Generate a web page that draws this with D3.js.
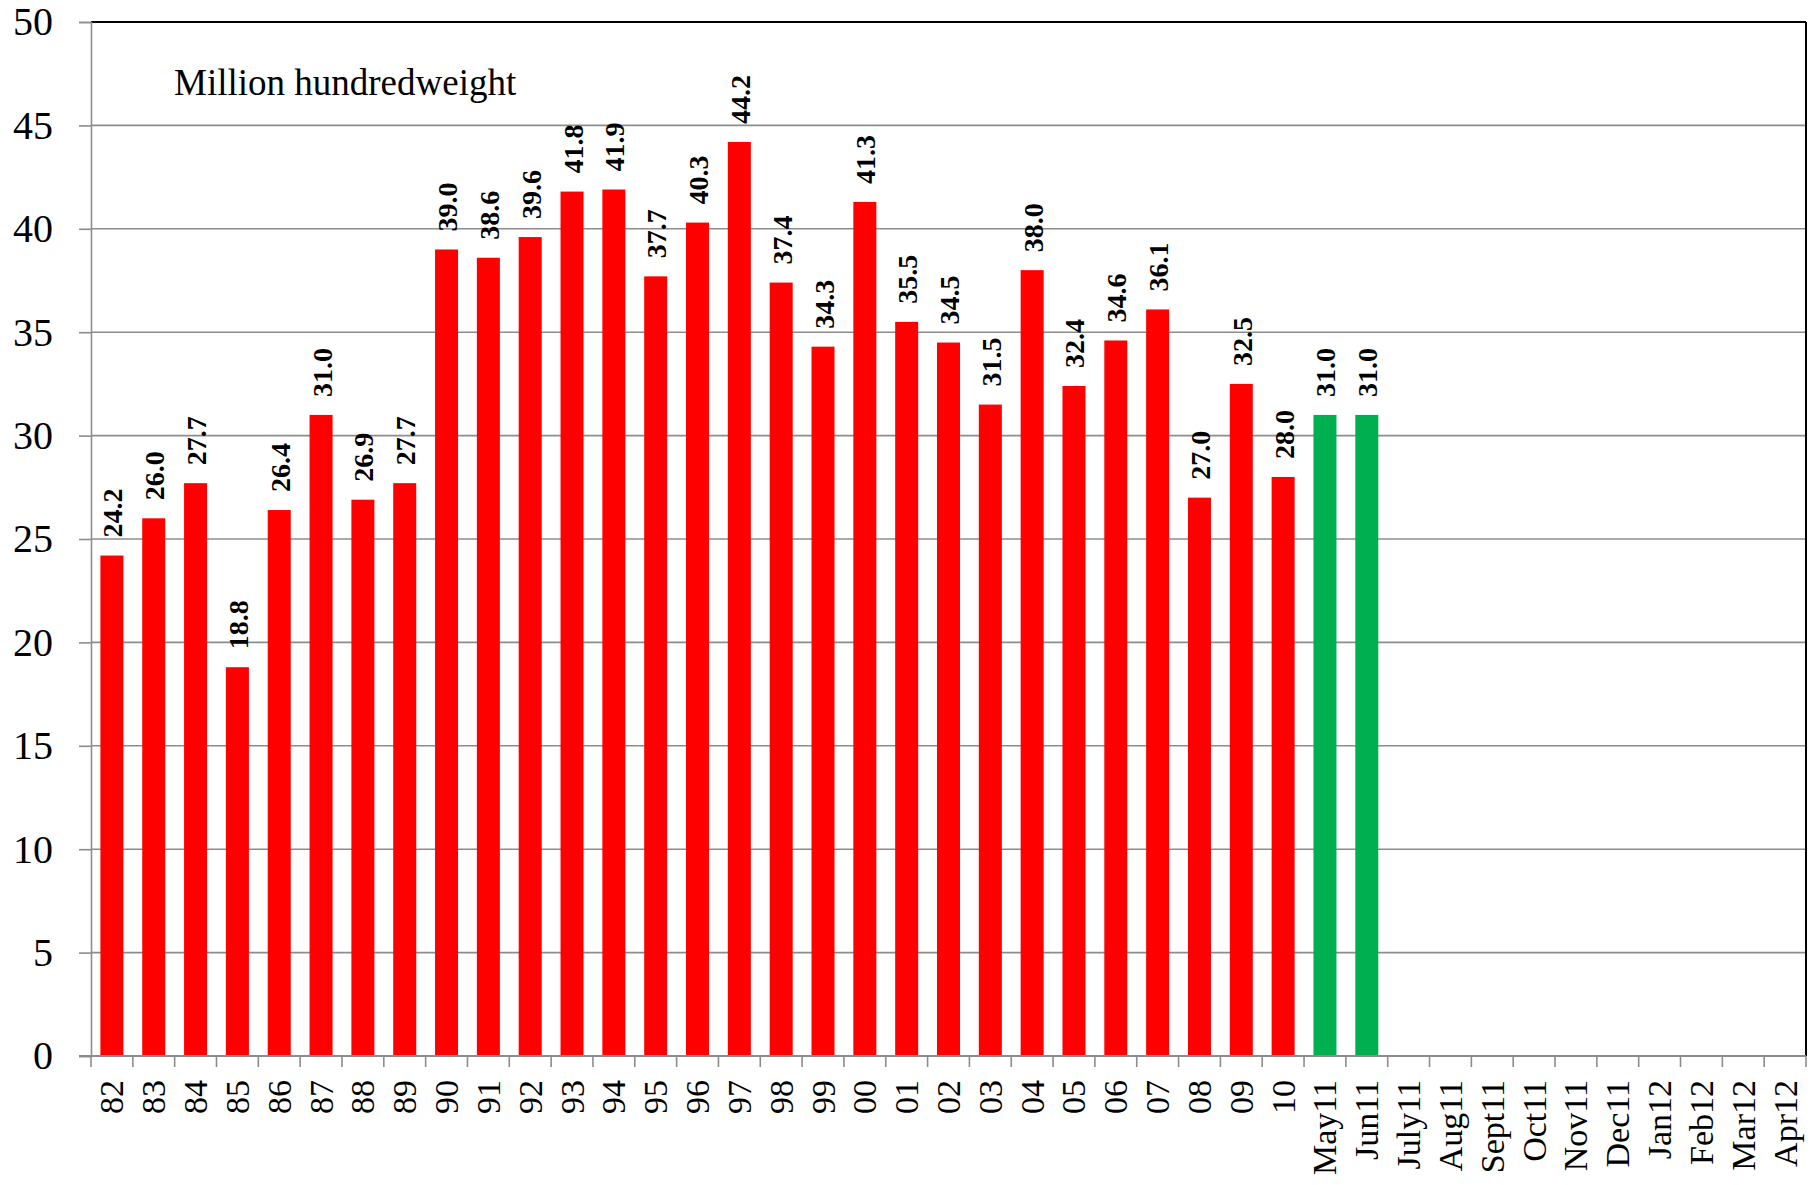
<!DOCTYPE html>
<html><head><meta charset="utf-8">
<script src="https://cdn.jsdelivr.net/npm/d3@7"></script>
<style>body{margin:0;background:#fff}svg{display:block}</style>
</head><body>
<script>
const categories = ["82","83","84","85","86","87","88","89","90","91","92","93","94","95","96","97","98","99","00","01","02","03","04","05","06","07","08","09","10","May11","Jun11","July11","Aug11","Sept11","Oct11","Nov11","Dec11","Jan12","Feb12","Mar12","Apr12"];
const annualValues = [24.2,26.0,27.7,18.8,26.4,31.0,26.9,27.7,39.0,38.6,39.6,41.8,41.9,37.7,40.3,44.2,37.4,34.3,41.3,35.5,34.5,31.5,38.0,32.4,34.6,36.1,27.0,32.5,28.0,null,null,null,null,null,null,null,null,null,null,null,null];
const monthlyValues = [null,null,null,null,null,null,null,null,null,null,null,null,null,null,null,null,null,null,null,null,null,null,null,null,null,null,null,null,null,31.0,31.0,null,null,null,null,null,null,null,null,null,null];
const yTicks = [0,5,10,15,20,25,30,35,40,45,50];
const unitLabel = "Million hundredweight";

const W = 1820, H = 1185;
const m = {left: 91, right: 14, top: 22, bottom: 129};
const svg = d3.select("body").append("svg").attr("width", W).attr("height", H);
const x = d3.scaleBand().domain(categories).range([m.left, W - m.right]).paddingInner(0.45).paddingOuter(0.225);
const y = d3.scaleLinear().domain([0, 50]).range([H - m.bottom, m.top]);
const font = "'Liberation Serif','Times New Roman',serif";

// gridlines
svg.append("g").selectAll("line").data(yTicks.filter(d => d > 0 && d < 50)).join("line")
  .attr("x1", m.left).attr("x2", W - m.right)
  .attr("y1", d => y(d)).attr("y2", d => y(d))
  .attr("stroke", "#8c8c8c").attr("stroke-width", 1.6);

// frame top/right
svg.append("line").attr("x1", m.left).attr("x2", W - m.right).attr("y1", y(50)).attr("y2", y(50)).attr("stroke", "#000").attr("stroke-width", 2);
svg.append("line").attr("x1", W - m.right).attr("x2", W - m.right).attr("y1", y(50)).attr("y2", y(0)).attr("stroke", "#000").attr("stroke-width", 2);

// y axis
const yAxis = svg.append("g").attr("transform", `translate(${m.left},0)`)
  .call(d3.axisLeft(y).tickValues(yTicks).tickSize(12).tickPadding(26));
yAxis.select(".domain").attr("stroke", "#8c8c8c").attr("stroke-width", 1.6);
yAxis.selectAll(".tick line").attr("stroke", "#8c8c8c").attr("stroke-width", 1.6);
yAxis.selectAll("text").attr("font-family", font).attr("font-size", 40).attr("fill", "#000");

// bars
const series = [
  {values: annualValues, color: "#FF0000"},
  {values: monthlyValues, color: "#00B050"}
];
series.forEach(s => {
  const data = categories.map((c, i) => ({c, v: s.values[i]})).filter(d => d.v != null);
  svg.append("g").selectAll("rect").data(data).join("rect")
    .attr("x", d => x(d.c)).attr("width", x.bandwidth())
    .attr("y", d => y(d.v)).attr("height", d => y(0) - y(d.v))
    .attr("fill", s.color);
  svg.append("g").selectAll("text").data(data).join("text")
    .attr("transform", d => `translate(${x(d.c) + x.bandwidth() / 2 + 10.5},${y(d.v) - 18}) rotate(-90)`)
    .attr("font-family", font).attr("font-weight", "bold").attr("font-size", 28)
    .attr("fill", "#000")
    .text(d => d.v.toFixed(1));
});

// x axis
const step = x.step();
const boundaries = d3.range(categories.length + 1).map(i => m.left + i * step);
svg.append("g").selectAll("line").data(boundaries).join("line")
  .attr("x1", d => d).attr("x2", d => d)
  .attr("y1", y(0)).attr("y2", y(0) + 11)
  .attr("stroke", "#8c8c8c").attr("stroke-width", 1.6);
svg.append("line").attr("x1", m.left - 12).attr("x2", W - m.right).attr("y1", y(0)).attr("y2", y(0))
  .attr("stroke", "#8c8c8c").attr("stroke-width", 1.8);
svg.append("g").selectAll("text").data(categories).join("text")
  .attr("transform", d => `translate(${x(d) + x.bandwidth() / 2 + 11.5},${y(0) + 24}) rotate(-90)`)
  .attr("text-anchor", "end")
  .attr("font-family", font).attr("font-size", 34).attr("fill", "#000")
  .text(d => d);

// unit label
svg.append("text").attr("x", 174).attr("y", 95)
  .attr("font-family", font).attr("font-size", 37).attr("fill", "#000")
  .text(unitLabel);
</script>
</body></html>
